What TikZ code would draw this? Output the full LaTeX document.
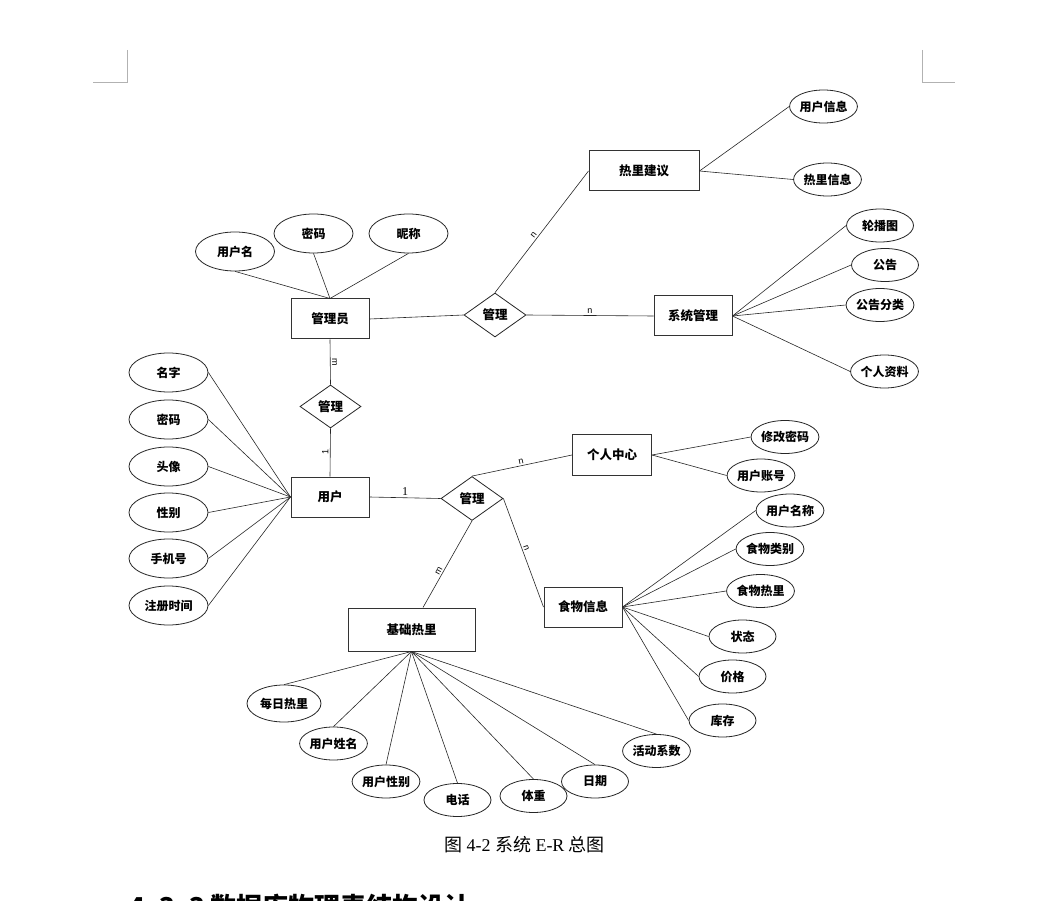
\documentclass[tikz,border=0pt]{standalone}
\usepackage{fontspec}
\setmainfont{Liberation Serif}
\newfontfamily\cjk{Noto Sans CJK SC}
\newfontfamily\lsans{Liberation Sans}
\usetikzlibrary{shapes.geometric}
\begin{document}
\begin{tikzpicture}[x=1pt,y=-1pt,
  ent/.style={draw=black!80,line width=1pt,fill=white,minimum width=#1,minimum height=40,inner sep=0pt,font=\cjk\bfseries\fontsize{12.5}{14}\selectfont},
  ent/.default=78,
  attr/.style={draw=black!85,line width=0.8pt,fill=white,ellipse,inner sep=0pt,minimum width=67,minimum height=33,font=\cjk\bfseries\fontsize{12}{14}\selectfont},
  battr/.style={attr,minimum width=79,minimum height=39},
  rel/.style={draw=black!85,line width=0.8pt,fill=white,diamond,inner sep=0pt,minimum width=62,minimum height=44,font=\cjk\bfseries\fontsize{12.5}{14}\selectfont},
  ln/.style={draw=black!85,line width=0.6pt},
  card/.style={font=\lsans\fontsize{9}{10}\selectfont,inner sep=1.5pt},
  corner/.style={draw=black!30,line width=0.6pt}
]
\useasboundingbox (0,0) rectangle (1053,901);
% page corner marks
\coordinate (c1a) at (127,50); \coordinate (c1b) at (127,82); \coordinate (c1c) at (93,82);
\coordinate (c2a) at (922,50); \coordinate (c2b) at (922,82); \coordinate (c2c) at (955,82);
\draw[corner] (c1a) -- (c1b) -- (c1c);
\draw[corner] (c2a) -- (c2b) -- (c2c);

% entities
\node[ent] (gly) at (330,319) {管理员};
\node[ent=110] (rljy) at (644,171) {热里建议};
\node[ent] (xtgl) at (693,316) {系统管理};
\node[ent] (yh) at (330,497) {用户};
\node[ent=79] (grzx) at (612,455) {个人中心};
\node[ent] (swxx) at (583,607) {食物信息};
\node[ent=127,minimum height=43] (jc) at (411.5,629.5) {基础热里};

% relationships
\node[rel] (d1) at (495,315) {管理};
\node[rel,minimum width=61,minimum height=43] (d2) at (330.5,406.5) {管理};
\node[rel] (d3) at (472,498.5) {管理};

% attributes of 管理员
\node[battr] (a1) at (235,251.5) {用户名};
\node[battr] (a2) at (313.5,233.5) {密码};
\node[battr] (a3) at (408.5,233.5) {昵称};

% attributes of 热里建议
\node[attr] (b1) at (823.5,106.5) {用户信息};
\node[attr] (b2) at (827.5,179.5) {热里信息};

% attributes of 系统管理
\node[attr] (s1) at (880,225.5) {轮播图};
\node[attr] (s2) at (885,265) {公告};
\node[attr] (s3) at (880,305) {公告分类};
\node[attr] (s4) at (884.5,371.5) {个人资料};

% attributes of 用户
\node[battr] (u1) at (168.5,372.5) {名字};
\node[battr] (u2) at (168.5,419.5) {密码};
\node[battr] (u3) at (168.5,466.5) {头像};
\node[battr] (u4) at (168.5,512.5) {性别};
\node[battr] (u5) at (168.5,558.5) {手机号};
\node[battr] (u6) at (168.5,605.5) {注册时间};

% attributes of 个人中心
\node[attr] (p1) at (785,437) {修改密码};
\node[attr] (p2) at (761,475.5) {用户账号};

% attributes of 食物信息
\node[attr] (f1) at (790,510.5) {用户名称};
\node[attr] (f2) at (770,549) {食物类别};
\node[attr] (f3) at (760.5,591) {食物热里};
\node[attr] (f4) at (742.5,636.5) {状态};
\node[attr] (f5) at (732.5,676.5) {价格};
\node[attr] (f6) at (722.5,720.5) {库存};

% attributes of 基础热里
\node[attr,minimum width=74,minimum height=37] (j1) at (284,703.5) {每日热里};
\node[attr] (j2) at (333.5,743.5) {用户姓名};
\node[attr] (j3) at (386,781.5) {用户性别};
\node[attr] (j4) at (457.5,800) {电话};
\node[attr] (j5) at (533.5,796) {体重};
\node[attr] (j6) at (595,781.5) {日期};
\node[attr] (j7) at (656.5,751) {活动系数};

% connectors: attributes
\foreach \a in {a1,a2,a3} \draw[ln] (\a.south) -- (gly.north);
\foreach \a in {b1,b2} \draw[ln] (rljy.east) -- (\a.west);
\foreach \a in {s1,s2,s3,s4} \draw[ln] (xtgl.east) -- (\a.west);
\foreach \a in {u1,u2,u3,u4,u5,u6} \draw[ln] (\a.east) -- (yh.west);
\foreach \a in {p1,p2} \draw[ln] (grzx.east) -- (\a.west);
\foreach \a in {f1,f2,f3,f4,f5,f6} \draw[ln] (swxx.east) -- (\a.west);
\foreach \a in {j1,j2,j3,j4,j5,j6,j7} \draw[ln] (jc.south) -- (\a.north);

% connectors: relationships
\draw[ln] (gly.east) -- (d1.west);
\draw[ln] (d1.north) -- node[card,sloped,above,pos=0.45] {n} (rljy.west);
\draw[ln] (d1.east) -- node[card,above,pos=0.5] {n} (xtgl.west);
\draw[ln] (d2.north) -- node[card,sloped,above,pos=0.5] {m} (gly.south);
\draw[ln] (yh.north) -- node[card,sloped,above,pos=0.5] {1} (d2.south);
\draw[ln] (yh.east) -- node[above,pos=0.5,inner sep=2pt,font=\fontsize{12}{13}\selectfont] {1} (d3.west);
\draw[ln] (d3.north) -- node[card,sloped,above,pos=0.5] {n} (grzx.west);
\draw[ln] (d3.east) -- node[card,sloped,above,pos=0.47] {n} (swxx.west);
\draw[ln] ([xshift=11.5pt]jc.north) -- node[card,sloped,above,pos=0.4] {m} (d3.south);

% caption
\node[font=\fontsize{18}{20}\selectfont] (cap) at (524.5,845) {{\cjk 图} 4-2 {\cjk 系统} E-R {\cjk 总图}};
% heading, cut off by the lower edge as in the reference
\node[anchor=base west,inner sep=0pt,font=\cjk\bfseries\fontsize{26}{28}\selectfont] (hd) at (129,916) {4.\hspace{5pt}3.\hspace{5pt}3\hspace{6pt}数据库物理表结构设计};
\end{tikzpicture}
\end{document}
